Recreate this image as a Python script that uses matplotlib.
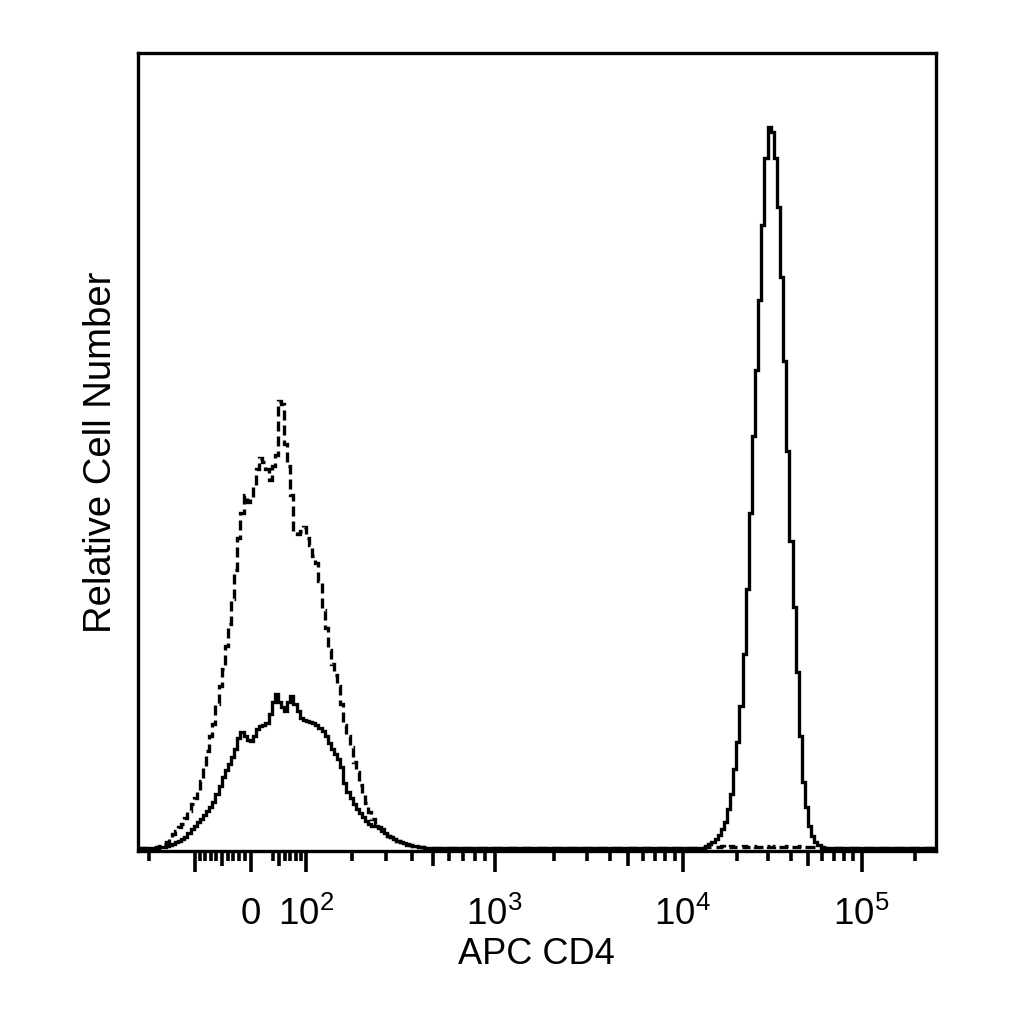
import numpy as np
import matplotlib
matplotlib.use("Agg")
import matplotlib.pyplot as plt
from matplotlib.ticker import FixedLocator, FixedFormatter, NullLocator

plt.rcParams['font.family'] = ['Liberation Sans', 'DejaVu Sans']
plt.rcParams['mathtext.fontset'] = 'custom'
plt.rcParams['mathtext.rm'] = 'Liberation Sans'
plt.rcParams['mathtext.it'] = 'Liberation Sans:italic'

# logicle (biexponential) display settings of the APC channel
T_TOP = 262144.0
M_DECADES = 4.5
W_LINEAR = 0.637
N_CHANNELS = 256

# histogram counts per display channel (relative units, CD4+ peak ~ 100)
# solid = stained sample, dashed = control
solid_low_start = 6
solid_low = [0.05, 0.1, 0.2, 0.35, 0.5, 0.6, 0.8, 1.0, 1.2, 1.6,
             2.1, 2.6, 3.1, 3.6, 4.1, 4.6, 5.1, 5.7, 6.4, 7.5,
             8.6, 9.8, 10.8, 11.6, 12.6, 13.8, 15.3, 16.1, 15.6, 15.0,
             14.8, 15.6, 16.5, 16.9, 17.1, 17.4, 18.6, 20.3, 21.3, 20.3,
             19.6, 19.0, 20.2, 21.1, 20.0, 19.0, 18.0, 17.8, 17.6, 17.5,
             17.3, 17.0, 16.6, 16.3, 15.5, 14.6, 13.8, 13.0, 12.3, 11.2,
             9.0, 7.8, 6.9, 6.1, 5.4, 4.8, 4.3, 3.8, 3.4, 3.1,
             3.0, 2.9, 2.6, 2.1, 1.7, 1.5, 1.2, 1.0, 0.8, 0.7,
             0.55, 0.45, 0.3, 0.25, 0.2, 0.1, 0.05]

solid_high_start = 182
solid_high = [0.3, 0.55, 0.8, 1.25, 1.8, 2.6, 3.6, 5.4, 7.5, 10.9,
              14.7, 19.7, 26.9, 35.9, 46.5, 57.1, 66.3, 76.0, 86.4, 95.7,
              100.0, 99.3, 95.7, 88.9, 79.1, 67.5, 55.0, 42.5, 33.4, 24.4,
              15.5, 9.1, 5.7, 3.0, 1.7, 0.8, 0.4, 0.15]

dashed_low_start = 6
dashed_low = [0.1, 0.3, 0.55, 0.9, 1.4, 1.9, 2.4, 2.9, 3.3, 4.2,
              5.2, 6.1, 7.0, 7.9, 9.3, 11.2, 13.5, 15.5, 17.2, 20.0,
              22.5, 24.8, 28.0, 31.0, 34.5, 38.5, 43.0, 46.5, 49.0, 48.0,
              48.5, 50.0, 52.5, 54.0, 53.5, 52.5, 51.0, 53.0, 54.5, 62.0,
              61.5, 56.0, 53.0, 49.0, 44.0, 43.5, 44.0, 44.5, 43.0, 42.0,
              40.5, 39.5, 37.0, 33.0, 30.5, 27.5, 25.5, 24.0, 22.5, 20.0,
              17.0, 15.5, 14.0, 12.0, 10.5, 8.8, 7.6, 6.2, 5.0, 4.0,
              3.3, 2.8, 2.4, 2.0, 1.7, 1.5, 1.2, 1.0, 0.8, 0.7,
              0.5, 0.4, 0.3, 0.25, 0.2, 0.1, 0.05]

dashed_high_start = 182
dashed_high = [0.1, 0.15, 0.2, 0.2, 0.15, 0.25, 0.2, 0.15, 0.25, 0.2,
               0.2, 0.15, 0.25, 0.2, 0.15, 0.25, 0.2, 0.2, 0.15, 0.25,
               0.2, 0.15, 0.25, 0.2, 0.2, 0.15, 0.25, 0.2, 0.2, 0.15,
               0.25, 0.2, 0.2, 0.15, 0.15, 0.1, 0.1, 0.05]

major_vals = [-100, 0, 100, 1e3, 1e4, 1e5]
major_labels = ['', '0', '$10^{2}$', '$10^{3}$', '$10^{4}$', '$10^{5}$']
medium_vals = [-50, 50, 500, 5e3, 5e4]
minor_vals = [-200, -90, -80, -70, -60, -40, -30, -20, -10,
              40, 60, 70, 80, 90,
              200, 300, 400, 600, 700, 800, 900,
              2e3, 3e3, 4e3, 6e3, 7e3, 8e3, 9e3,
              2e4, 3e4, 4e4, 6e4, 7e4, 8e4, 9e4, 2e5]


def logicle_params(T, W, M):
    w = W / M
    x1 = w
    x0 = 2 * w
    b = M * np.log(10)
    lo, hi = 1e-9, b
    for _ in range(200):
        mid = 0.5 * (lo + hi)
        if 2 * (np.log(mid) - np.log(b)) + w * (b + mid) > 0:
            hi = mid
        else:
            lo = mid
    d = 0.5 * (lo + hi)
    c_a = np.exp(x0 * (b + d))
    mf_a = np.exp(b * x1) - c_a * np.exp(-d * x1)
    a = T / (np.exp(b) - mf_a - c_a * np.exp(-d))
    return a, b, c_a * a, d, -mf_a * a, x1


LA, LB, LC, LD, LF, LX1 = logicle_params(T_TOP, W_LINEAR, M_DECADES)


def logicle_inverse(y):
    # display position (0..1) -> data value
    y = np.asarray(y, dtype=float)
    r = np.where(y >= LX1, y, 2 * LX1 - y)
    s = LA * np.exp(LB * r) - LC * np.exp(-LD * r) + LF
    return np.where(y >= LX1, s, -s)


grid_y = np.linspace(-0.3, 1.3, 40001)
grid_v = logicle_inverse(grid_y)


def logicle_forward(v):
    return np.interp(np.asarray(v, dtype=float), grid_v, grid_y)


def full_hist(parts):
    h = np.zeros(N_CHANNELS)
    for start, vals in parts:
        h[start:start + len(vals)] = vals
    return h


solid = full_hist([(solid_low_start, solid_low), (solid_high_start, solid_high)])
dashed = full_hist([(dashed_low_start, dashed_low), (dashed_high_start, dashed_high)])
edges = logicle_inverse(np.linspace(0, 1, N_CHANNELS + 1))

fig = plt.figure(figsize=(10.24, 10.24), dpi=100)
ax = fig.add_axes([137.5 / 1024, 1 - 851 / 1024, 798.5 / 1024, 798 / 1024])
ax.set_xscale('function', functions=(logicle_forward, logicle_inverse))

ax.stairs(dashed, edges, color='black', lw=2.4, linestyle=(0, (3.0, 1.5)))
ax.stairs(solid, edges, color='black', lw=2.4)

ax.set_xlim(edges[0], edges[-1])
ax.set_ylim(-0.4, 110.2)

for sp in ax.spines.values():
    sp.set_linewidth(2.4)

tick_vals = major_vals + medium_vals
tick_labels = major_labels + [''] * len(medium_vals)
ax.xaxis.set_major_locator(FixedLocator(tick_vals))
ax.xaxis.set_major_formatter(FixedFormatter(tick_labels))
ax.xaxis.set_minor_locator(FixedLocator(minor_vals))
ax.tick_params(axis='x', which='major', direction='out', length=15, width=2.6,
               labelsize=26.5, pad=18)
ax.tick_params(axis='x', which='minor', direction='out', length=7.5, width=2.6)
ax.yaxis.set_major_locator(NullLocator())
ax.yaxis.set_minor_locator(NullLocator())

for tk in ax.xaxis.get_major_ticks()[len(major_vals):]:
    tk.tick1line.set_markersize(10.5)

ax.set_xlabel('APC CD4', fontsize=26, labelpad=3)
ax.set_ylabel('Relative Cell Number', fontsize=27.5, labelpad=13)

fig.savefig('out.png', dpi=100)
